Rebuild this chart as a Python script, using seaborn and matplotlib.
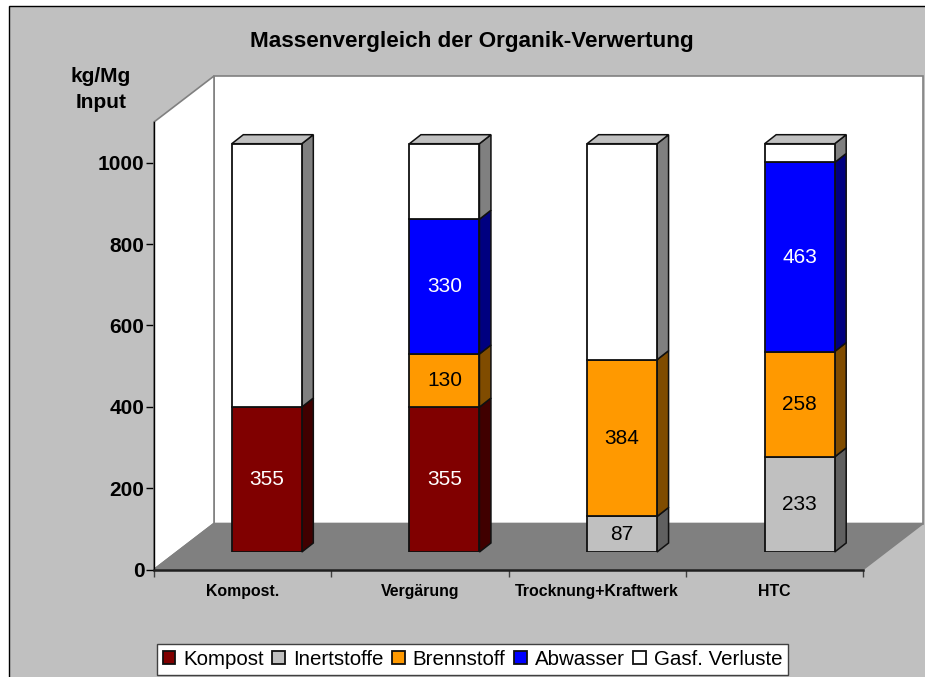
import matplotlib
matplotlib.use('Agg')
import matplotlib.pyplot as plt
from matplotlib.patches import Polygon, Rectangle
import numpy as np
import pandas as pd
import seaborn as sns

categories = ['Kompost.', 'Vergärung', 'Trocknung+Kraftwerk', 'HTC']
kompost = [355, 355, 0, 0]
inertstoffe = [0, 0, 87, 233]
brennstoff = [0, 130, 384, 258]
abwasser = [0, 330, 0, 463]
verluste = [645, 185, 529, 46]
series_names = ['Kompost', 'Inertstoffe', 'Brennstoff', 'Abwasser', 'Gasf. Verluste']
series_values = [kompost, inertstoffe, brennstoff, abwasser, verluste]
series_colors = ['#800000', '#C0C0C0', '#FF9900', '#0000FF', '#FFFFFF']
side_colors = ['#400000', '#606060', '#804C00', '#000080', '#808080']
label_colors = ['white', 'black', 'black', 'white', None]
y_ticks = [0, 200, 400, 600, 800, 1000]

W, H = 925, 677
GREY = '#C0C0C0'

sns.set_style('white')
plt.rcParams['font.family'] = ['Liberation Sans', 'DejaVu Sans']
plt.rcParams['font.size'] = 15
plt.rcParams['text.color'] = 'black'
plt.rcParams['xtick.color'] = 'black'
plt.rcParams['ytick.color'] = 'black'


def px_axes(fig, left, right, top, bottom):
    return fig.add_axes([left / W, 1 - bottom / H, (right - left) / W, (bottom - top) / H])


fig = plt.figure(figsize=(W / 100, H / 100), dpi=100, facecolor='white')
fig.add_artist(Rectangle((9 / W, -0.01), 1, 1 - 6 / H + 0.01, transform=fig.transFigure,
                         facecolor=GREY, edgecolor='black', linewidth=1, zorder=-1))

# axes on the front plane: walls, floor and ticks
ax = px_axes(fig, 154, 863, 122, 569.5)
ax.set_facecolor('none')
ax.set_xlim(-0.5, 3.5)
ax.set_ylim(0, 1100)

# depth of the box in axes fractions
dx, dy = 60 / 709, 46 / 447.5
walls = [
    ([(dx, dy), (1 + dx, dy), (1 + dx, 1 + dy), (dx, 1 + dy)], 'white', '#808080'),
    ([(0, 0), (dx, dy), (dx, 1 + dy), (0, 1)], 'white', '#808080'),
    ([(0, 0), (1, 0), (1 + dx, dy), (dx, dy)], '#808080', '#808080'),
]
for corners, face, edge in walls:
    ax.add_patch(Polygon(corners, closed=True, transform=ax.transAxes, facecolor=face,
                         edgecolor=edge, linewidth=1.2, clip_on=False, zorder=1))

for side in ['top', 'right']:
    ax.spines[side].set_visible(False)
ax.spines['left'].set_color('black')
ax.spines['left'].set_linewidth(1)
ax.spines['left'].set_zorder(3)
ax.spines['bottom'].set_color('#202020')
ax.spines['bottom'].set_linewidth(1.8)
ax.spines['bottom'].set_zorder(3)
ax.set_yticks(y_ticks)
ax.set_yticklabels(y_ticks, fontweight='bold', fontsize=15)
ax.tick_params(axis='y', left=True, length=5.5, width=1, color='black', pad=1.5)
ax.set_xticks(range(len(categories)))
ax.set_xticklabels(categories, fontweight='bold', fontsize=11.4)
ax.set_xticks(np.arange(-0.5, 4), minor=True)
ax.tick_params(axis='x', which='major', bottom=False, pad=7)
ax.tick_params(axis='x', which='minor', bottom=True, length=5, width=1, color='#404040')

# axes for the bars, moved into the box
bar_left, bar_down = 24, 17.5
bx = px_axes(fig, 154 + bar_left, 864.5 + bar_left, 122 - bar_down, 569.5 - bar_down)
bx.set_facecolor('none')

data = pd.DataFrame(dict(zip(series_names, series_values)), index=categories)
bottoms = data.cumsum(axis=1).shift(axis=1).fillna(0)
bar_width = 70 / 177.6
side_x = 11.5 / 177.6
side_y = 9 / (447.5 / 1096)

for i, name in enumerate(series_names):
    part = data[name][data[name] > 0]
    start = bottoms[name][part.index]
    sns.barplot(x=part.index, y=part.values, order=categories, bottom=start.values,
                color=series_colors[i], saturation=1, width=bar_width, edgecolor='#101010',
                linewidth=1.3, errorbar=None, label=name, ax=bx, zorder=4)
    container = bx.containers[-1]
    if label_colors[i]:
        bx.bar_label(container, labels=[str(v) for v in part.values], label_type='center',
                     color=label_colors[i], fontsize=15, zorder=6)
    for bar in container:
        r = bar.get_x() + bar.get_width()
        b = bar.get_y()
        t = b + bar.get_height()
        bx.add_patch(Polygon([(r, b), (r + side_x, b + side_y), (r + side_x, t + side_y), (r, t)],
                             closed=True, facecolor=side_colors[i], edgecolor='#101010',
                             linewidth=1.1, zorder=3, clip_on=False))
        if name == series_names[-1]:
            left = bar.get_x()
            bx.add_patch(Polygon([(left, t), (r, t), (r + side_x, t + side_y), (left + side_x, t + side_y)],
                                 closed=True, facecolor=GREY, edgecolor='#101010',
                                 linewidth=1.1, zorder=3, clip_on=False))

bx.set_xlim(-0.5, 3.5)
bx.set_ylim(0, 1096)
handles, labels = bx.get_legend_handles_labels()
bx.get_legend().remove()
bx.axis('off')

fig.text(472 / W, 1 - 41 / H, 'Massenvergleich der Organik-Verwertung', ha='center', va='center',
         fontweight='bold', fontsize=16.2)
fig.text(101 / W, 1 - 76 / H, 'kg/Mg', ha='center', va='center', fontweight='bold', fontsize=15)
fig.text(101 / W, 1 - 102 / H, 'Input', ha='center', va='center', fontweight='bold', fontsize=15)

leg = fig.legend(handles, labels, ncol=5, loc='lower left', bbox_to_anchor=(156.5 / W, 1 - 675 / H),
                 frameon=True, fancybox=False, framealpha=1, edgecolor='#404040', facecolor='white',
                 fontsize=14.8, handlelength=0.62, handleheight=0.62, handletextpad=0.38,
                 columnspacing=0.42, borderpad=0.3, borderaxespad=0)
leg.get_frame().set_linewidth(1)

fig.savefig('out.png', dpi=100, facecolor=fig.get_facecolor())
